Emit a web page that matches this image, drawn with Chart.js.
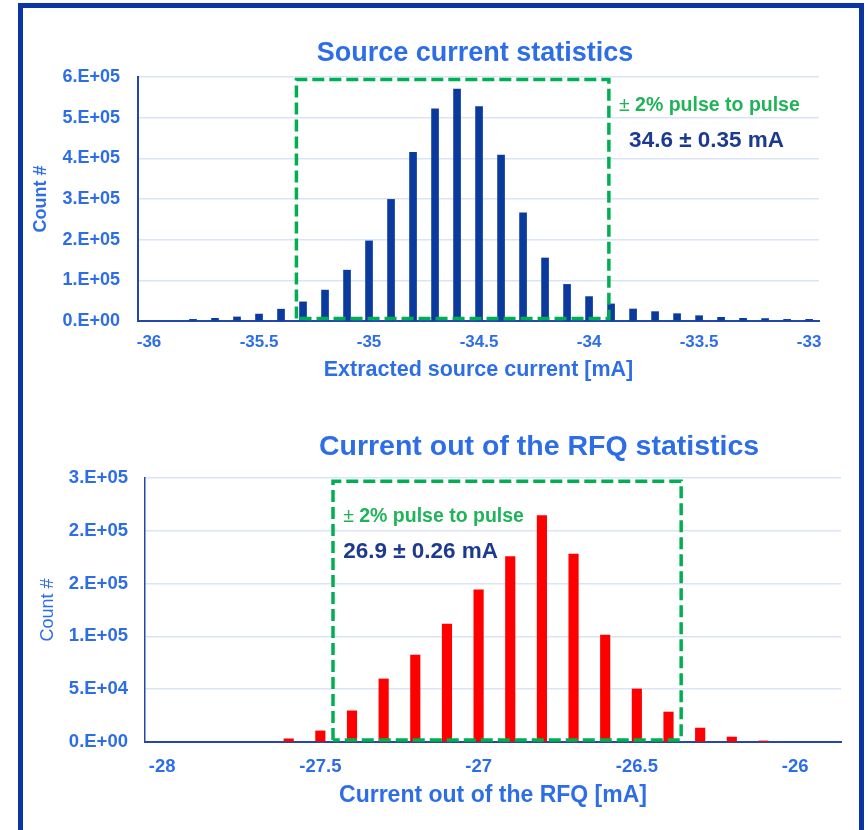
<!DOCTYPE html>
<html>
<head>
<meta charset="utf-8">
<script src="https://cdn.jsdelivr.net/npm/chart.js@4"></script>
<style>
  html, body { margin: 0; padding: 0; background: #ffffff; }
  body { width: 868px; height: 830px; position: relative; overflow: hidden; }
  canvas { position: absolute; left: 0; }
  #srcChart { top: 0; }
  #rfqChart { top: 400px; }
  #frame {
    position: absolute; left: 18px; top: 3px;
    width: 836px; height: 826px;
    border: 5px solid #0b35a3; pointer-events: none;
  }
</style>
</head>
<body>
<canvas id="srcChart" width="868" height="400"></canvas>
<canvas id="rfqChart" width="868" height="430"></canvas>
<div id="frame"></div>
<script>
// ---- Extracted source current histogram ----
const srcCurrent = [-35.8, -35.7, -35.6, -35.5, -35.4, -35.3, -35.2, -35.1, -35.0, -34.9,
                    -34.8, -34.7, -34.6, -34.5, -34.4, -34.3, -34.2, -34.1, -34.0, -33.9,
                    -33.8, -33.7, -33.6, -33.5, -33.4, -33.3, -33.2, -33.1, -33.0];
const srcCounts = [4000, 6500, 10000, 17000, 29000, 47000, 76000, 125000, 197000, 299000,
                   415000, 522000, 570000, 527000, 408000, 266000, 155000, 90000, 60000, 42000,
                   29500, 23000, 18000, 13000, 9000, 6500, 6000, 4000, 4000];
const srcXTicks = [-36, -35.5, -35, -34.5, -34, -33.5, -33];
const srcXTickLabels = ['-36', '-35.5', '-35', '-34.5', '-34', '-33.5', '-33'];
const srcYTicks = [0, 100000, 200000, 300000, 400000, 500000, 600000];
const srcYTickLabels = ['0.E+00', '1.E+05', '2.E+05', '3.E+05', '4.E+05', '5.E+05', '6.E+05'];
const srcBandX = [-35.33, -33.91];      // ±2% window around the mean
const srcBandY = [6000, 594000];
const srcNoteX = [-33.864, -33.818];    // left edge of the two notes
const srcNoteY = [530000, 444000];

// ---- Current out of the RFQ histogram ----
const rfqCurrent = [-27.6, -27.5, -27.4, -27.3, -27.2, -27.1, -27.0, -26.9,
                    -26.8, -26.7, -26.6, -26.5, -26.4, -26.3, -26.2, -26.1];
const rfqCounts = [3000, 10500, 29500, 59700, 82400, 111700, 144000, 175500,
                   214300, 178000, 101300, 50200, 28400, 13200, 4700, 1000];
const rfqXTicks = [-28, -27.5, -27, -26.5, -26];
const rfqXTickLabels = ['-28', '-27.5', '-27', '-26.5', '-26'];
const rfqYTicks = [0, 50000, 100000, 150000, 200000, 250000];
const rfqYTickLabels = ['0.E+00', '5.E+04', '1.E+05', '2.E+05', '2.E+05', '3.E+05'];
const rfqBandX = [-27.46, -26.36];
const rfqBandY = [2000, 247000];
const rfqNoteX = [-27.428, -27.428];
const rfqNoteY = [213000, 180000];

const FONT = '"Liberation Sans", Arial, sans-serif';
const BLUE = '#2d6ee8';
const NAVY = '#0b3a9e';
const AXIS = '#2448a8';
const GRID = '#d9e4f6';
const GREEN = '#00b050';
const NOTE_GREEN = '#1fb458';
const NOTE_NAVY = '#1c3a8f';

function bandPoints(bx, by) {
  return [
    {x: bx[0], y: by[0]}, {x: bx[0], y: by[1]},
    {x: bx[1], y: by[1]}, {x: bx[1], y: by[0]},
    {x: bx[0], y: by[0]}
  ];
}

// Chart heading and the two notes inside the ±2% window
const notesPlugin = {
  id: 'notes',
  afterDraw(chart, args, o) {
    const {ctx, scales: {x, y}} = chart;
    ctx.save();
    ctx.textBaseline = 'middle';
    ctx.textAlign = 'center';
    ctx.fillStyle = BLUE;
    ctx.font = `bold ${o.titleSize}px ${FONT}`;
    ctx.fillText(o.title, o.titleX, o.titleY);

    ctx.textAlign = 'left';
    let gx = x.getPixelForValue(o.noteX[0]);
    const gy = y.getPixelForValue(o.noteY[0]);
    ctx.fillStyle = NOTE_GREEN;
    ctx.font = `${o.greenSize}px ${FONT}`;
    ctx.fillText('\u00B1', gx, gy);
    gx += ctx.measureText('\u00B1').width;
    ctx.font = `bold ${o.greenSize}px ${FONT}`;
    ctx.fillText(' 2% pulse to pulse', gx, gy);

    ctx.fillStyle = NOTE_NAVY;
    ctx.font = `bold ${o.navySize}px ${FONT}`;
    ctx.fillText(o.value, x.getPixelForValue(o.noteX[1]), y.getPixelForValue(o.noteY[1]));
    ctx.restore();
  }
};

function makeChart(id, cfg) {
  return new Chart(document.getElementById(id), {
    data: {
      datasets: [
        {
          type: 'line',
          data: bandPoints(cfg.bandX, cfg.bandY),
          borderColor: GREEN,
          borderWidth: 3.5,
          borderDash: [12, 5],
          borderCapStyle: 'butt',
          pointRadius: 0,
          tension: 0,
          fill: false,
          order: 0
        },
        {
          type: 'bar',
          data: cfg.xs.map((v, i) => ({x: v, y: cfg.ys[i]})),
          backgroundColor: cfg.barColor,
          borderWidth: 0,
          barThickness: cfg.barWidth,
          order: 1
        }
      ]
    },
    options: {
      responsive: false,
      animation: false,
      events: [],
      layout: {padding: cfg.padding},
      plugins: {
        legend: {display: false},
        tooltip: {enabled: false},
        title: {display: false},
        notes: cfg.notes
      },
      scales: {
        x: {
          type: 'linear',
          min: cfg.xMin, max: cfg.xMax,
          offset: false,
          grid: {display: false, drawTicks: false, offset: false},
          border: {display: true, color: AXIS, width: 2},
          afterBuildTicks: s => { s.ticks = cfg.xTicks.map(v => ({value: v})); },
          afterFit: s => { s.height = cfg.xHeight; },
          ticks: {
            color: BLUE, padding: cfg.xTickPad, maxRotation: 0, autoSkip: false,
            font: {family: FONT, size: cfg.xTickSize, weight: 'bold'},
            callback: (v, i) => cfg.xLabels[i]
          },
          title: {
            display: true, text: cfg.xTitle, color: BLUE,
            font: {family: FONT, size: cfg.xTitleSize, weight: 'bold'},
            padding: {top: 0, bottom: cfg.xTitlePad}
          }
        },
        y: {
          type: 'linear',
          min: 0, max: cfg.yTicks[cfg.yTicks.length - 1],
          grid: {display: true, color: GRID, lineWidth: 1.5, drawTicks: false},
          border: {display: true, color: AXIS, width: cfg.yAxisWidth},
          afterBuildTicks: s => { s.ticks = cfg.yTicks.map(v => ({value: v})); },
          afterFit: s => { s.width = cfg.yWidth; },
          ticks: {
            color: BLUE, padding: cfg.yTickPad,
            font: {family: FONT, size: cfg.yTickSize, weight: 'bold'},
            callback: (v, i) => cfg.yLabels[i]
          },
          title: {
            display: true, text: 'Count #', color: BLUE,
            font: {family: FONT, size: 18, weight: cfg.yTitleWeight},
            padding: {top: cfg.yTitlePad, bottom: 0}
          }
        }
      }
    },
    plugins: [notesPlugin]
  });
}

makeChart('srcChart', {
  xs: srcCurrent, ys: srcCounts, barColor: NAVY, barWidth: 7,
  bandX: srcBandX, bandY: srcBandY,
  xMin: -36.05, xMax: -32.955, xTicks: srcXTicks, xLabels: srcXTickLabels,
  yTicks: srcYTicks, yLabels: srcYTickLabels,
  padding: {left: 20, right: 49, top: 77, bottom: 9},
  xHeight: 70, yWidth: 118, yAxisWidth: 2,
  xTickSize: 17, xTickPad: 11, xTitle: 'Extracted source current [mA]', xTitleSize: 21.5, xTitlePad: 8,
  yTickSize: 18, yTickPad: 18, yTitlePad: 10, yTitleWeight: 'bold',
  notes: {
    title: 'Source current statistics', titleSize: 27, titleX: 475, titleY: 53.5,
    noteX: srcNoteX, noteY: srcNoteY, value: '34.6 \u00B1 0.35 mA', greenSize: 19.5, navySize: 22.5
  }
});

makeChart('rfqChart', {
  xs: rfqCurrent, ys: rfqCounts, barColor: '#ff0000', barWidth: 9.5,
  bandX: rfqBandX, bandY: rfqBandY,
  xMin: -28.054, xMax: -25.855, xTicks: rfqXTicks, xLabels: rfqXTickLabels,
  yTicks: rfqYTicks, yLabels: rfqYTickLabels,
  padding: {left: 20, right: 27, top: 78, bottom: 18},
  xHeight: 70, yWidth: 125, yAxisWidth: 1.5,
  xTickSize: 18.5, xTickPad: 14, xTitle: 'Current out of the RFQ [mA]', xTitleSize: 23, xTitlePad: 2.5,
  yTickSize: 18.5, yTickPad: 17, yTitlePad: 17, yTitleWeight: 'normal',
  notes: {
    title: 'Current out of the RFQ statistics', titleSize: 28.5, titleX: 539, titleY: 47,
    noteX: rfqNoteX, noteY: rfqNoteY, value: '26.9 \u00B1 0.26 mA', greenSize: 19.5, navySize: 22.5
  }
});
</script>
</body>
</html>
